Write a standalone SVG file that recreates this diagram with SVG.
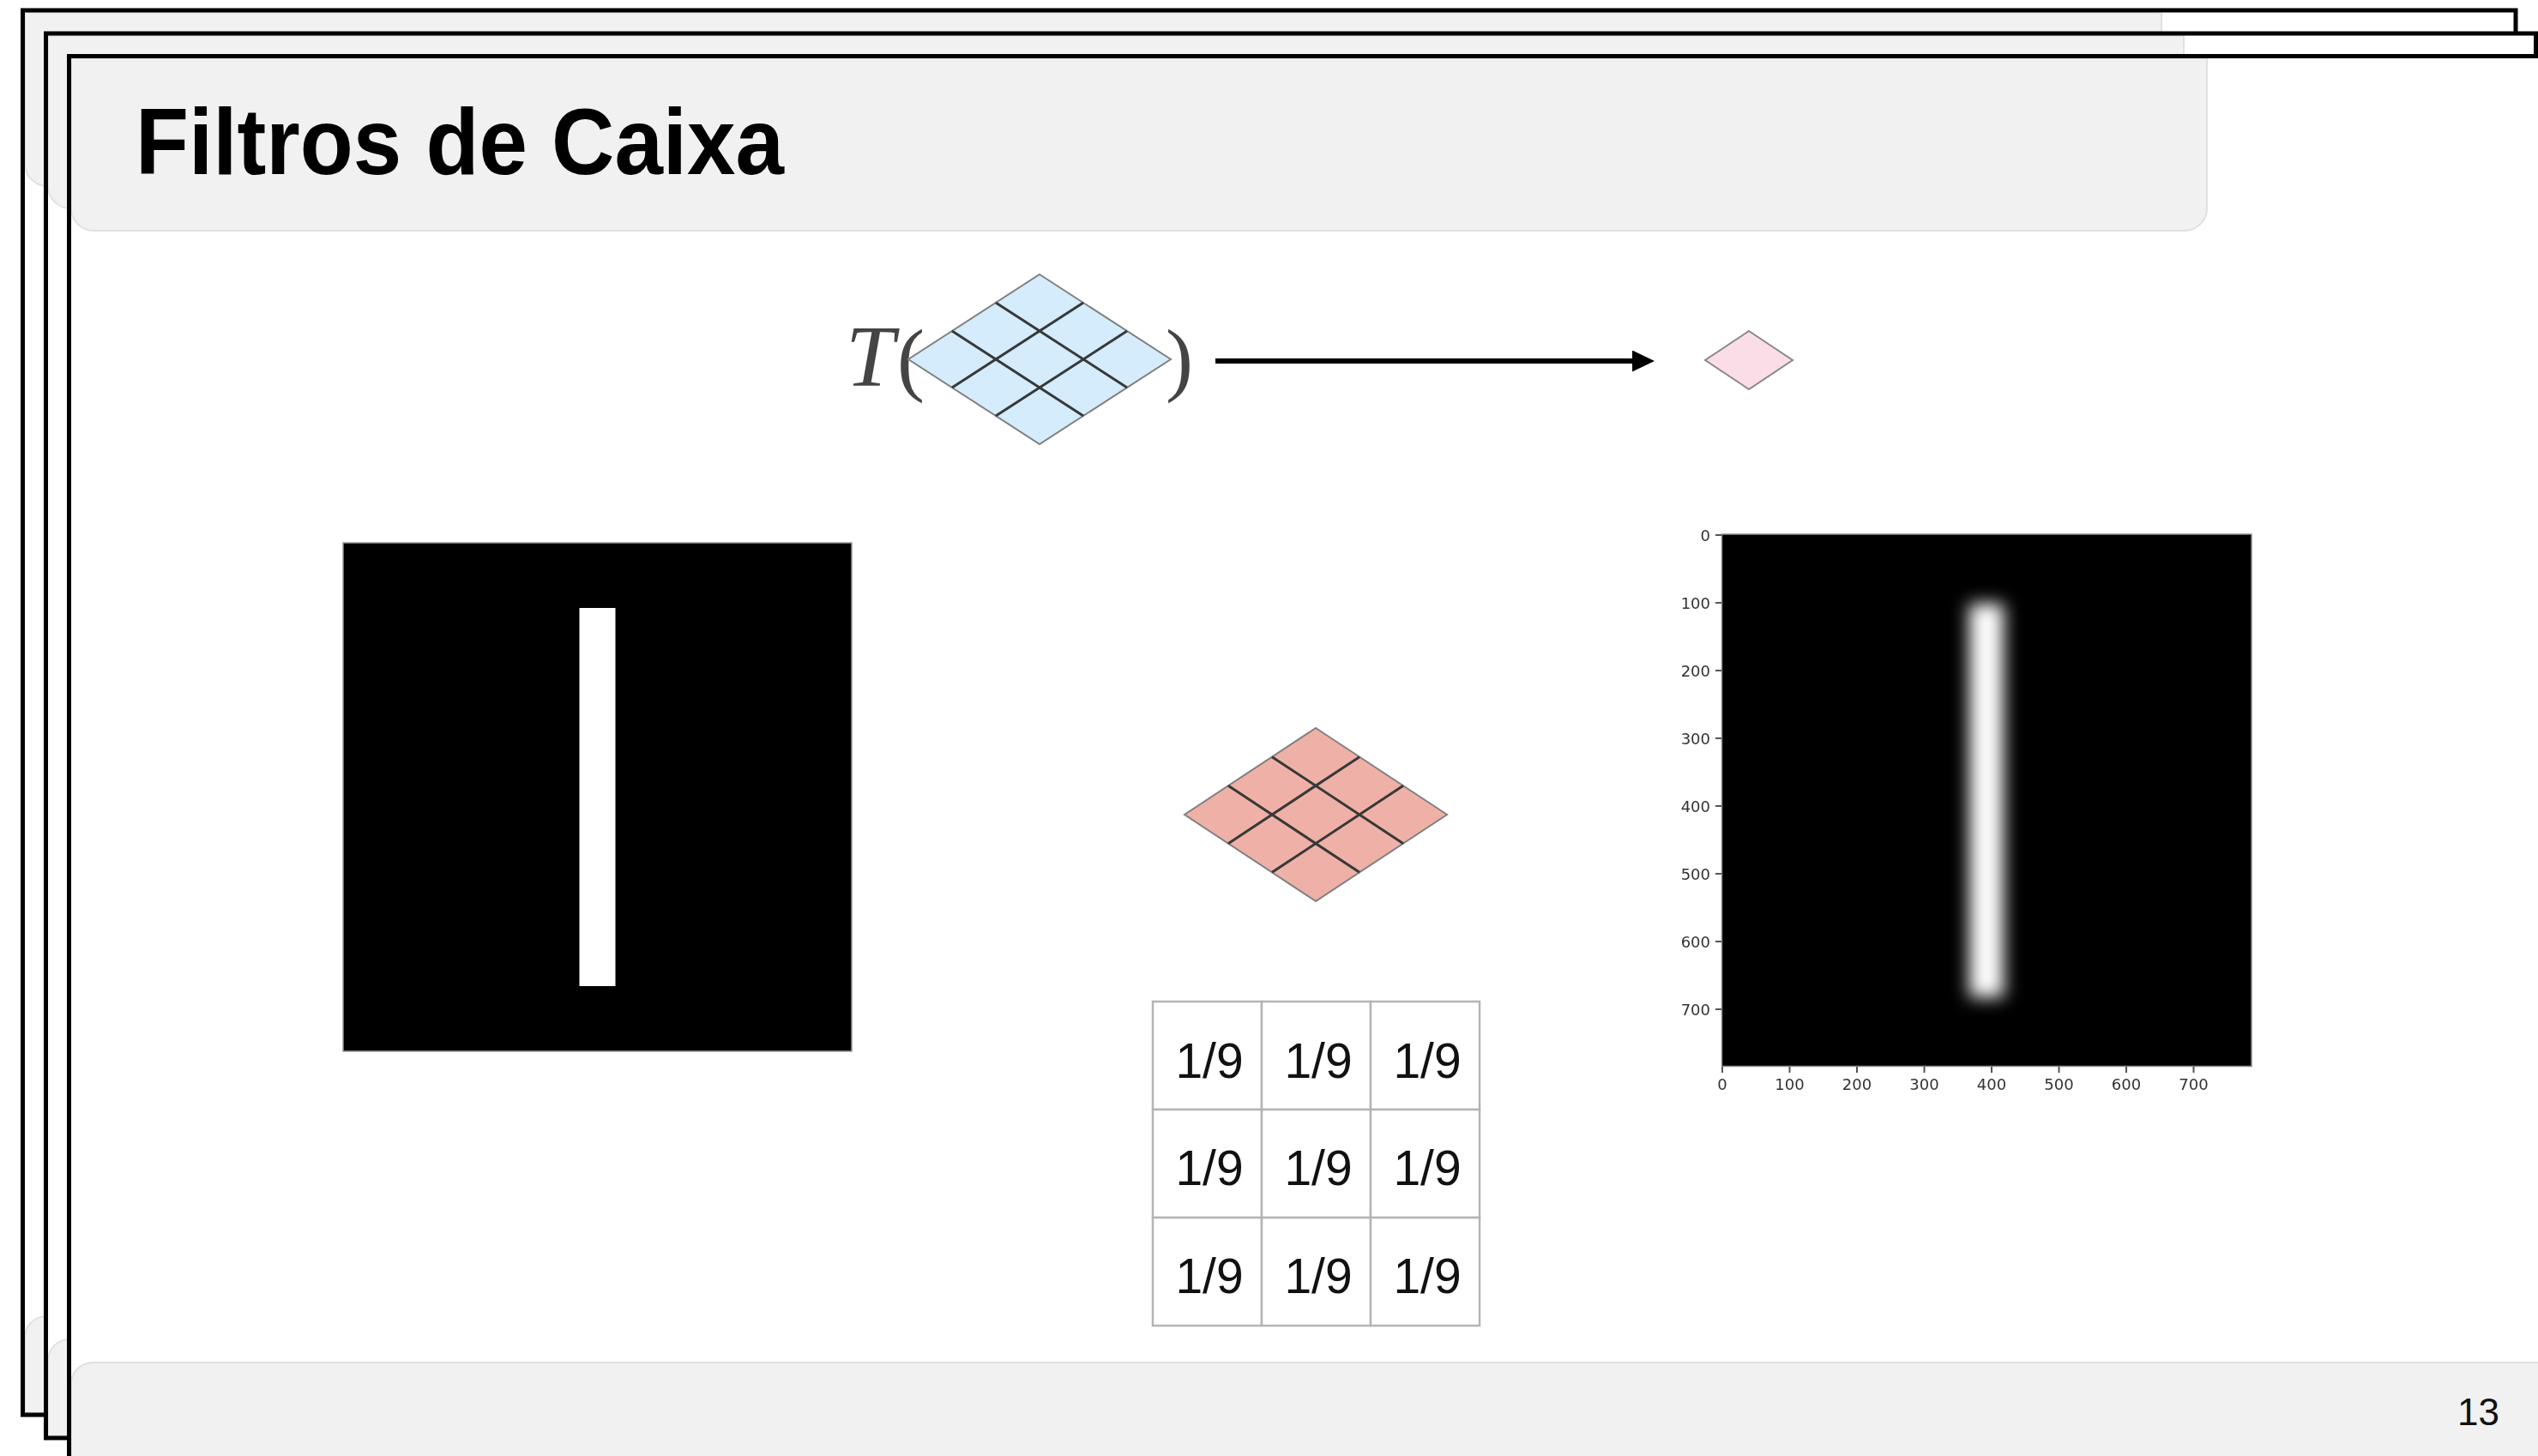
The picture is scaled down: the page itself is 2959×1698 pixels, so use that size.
<svg xmlns="http://www.w3.org/2000/svg" xmlns:xlink="http://www.w3.org/1999/xlink" width="2959" height="1698" viewBox="0 0 2959 1698">
  <style>
    .sheet { fill: #ffffff; }
    .frame { fill: none; stroke: #000000; stroke-width: 5; }
    .band { fill: #f1f1f1; stroke: #e0e0e0; stroke-width: 2; }
    .title { font-family: "Liberation Sans", Arial, Helvetica, sans-serif; font-weight: bold; font-size: 110px; fill: #000000; }
    .pageno { font-family: "Liberation Sans", Arial, Helvetica, sans-serif; font-size: 44px; fill: #111111; }
    .math { font-family: "Liberation Serif", "Times New Roman", serif; fill: #444444; }
    .cell { fill: #ffffff; stroke: #b5b5b5; stroke-width: 2.5; }
    .weight { font-family: "Liberation Sans", Arial, Helvetica, sans-serif; font-size: 57px; fill: #111111; text-anchor: middle; }
    .tick { stroke: #555555; stroke-width: 2; }
    .ticklabel { font-family: "DejaVu Sans", sans-serif; font-size: 18px; fill: #333333; }
    .rh-edge { fill: inherit; stroke: #808080; stroke-width: 2; }
    .rh-line { stroke: #383838; stroke-width: 3; }
    .connector { stroke: #000000; stroke-width: 6; fill: none; }
  </style>
  <defs>
    <!-- 3x3 rhombus grid centred on the origin; fill comes from the <use> -->
    <g id="rhombus-grid">
      <polygon class="rh-edge" points="0,-100 153,0 0,100 -153,0"/>
      <line class="rh-line" x1="51" y1="-66.67" x2="-102" y2="33.33"/>
      <line class="rh-line" x1="102" y1="-33.33" x2="-51" y2="66.67"/>
      <line class="rh-line" x1="-51" y1="-66.67" x2="102" y2="33.33"/>
      <line class="rh-line" x1="-102" y1="-33.33" x2="51" y2="66.67"/>
    </g>
    <marker id="arrowhead" markerUnits="userSpaceOnUse" viewBox="0 0 26 25" markerWidth="26" markerHeight="25" refX="2" refY="12.5" orient="auto">
      <polygon points="0,0 26,12.5 0,25" fill="#000000"/>
    </marker>
    <filter id="glow" filterUnits="userSpaceOnUse" x="2200" y="600" width="240" height="660">
      <feGaussianBlur stdDeviation="10"/>
    </filter>
    <filter id="soft" x="-5%" y="-5%" width="110%" height="110%">
      <feGaussianBlur stdDeviation="0.7"/>
    </filter>
  </defs>

  <rect width="2959" height="1698" fill="#ffffff"/>

  <!-- back sheet -->
  <g id="sheet-back">
    <rect class="sheet" x="26.5" y="12" width="2906.5" height="1638"/>
    <path class="band" d="M29,14.5 H2520 V191 A26,26 0 0 1 2494,217 H55 A26,26 0 0 1 29,191 Z"/>
    <path class="band" d="M29,1647.5 V1560 A25,25 0 0 1 54,1535 H2930.5 V1647.5 Z"/>
    <rect class="frame" x="26.5" y="12" width="2906.5" height="1638"/>
  </g>

  <!-- middle sheet -->
  <g id="sheet-middle">
    <rect class="sheet" x="53.5" y="39" width="2903" height="1638"/>
    <path class="band" d="M56,41.5 H2546 V217 A26,26 0 0 1 2520,243 H82 A26,26 0 0 1 56,217 Z"/>
    <path class="band" d="M56,1674.5 V1587 A25,25 0 0 1 81,1562 H2954 V1674.5 Z"/>
    <rect class="frame" x="53.5" y="39" width="2903" height="1638"/>
  </g>

  <!-- front sheet -->
  <g id="sheet-front">
    <rect class="sheet" x="80.5" y="65.5" width="2920" height="1660"/>
    <path class="band" d="M83,68 H2573 V243 A26,26 0 0 1 2547,269 H109 A26,26 0 0 1 83,243 Z"/>
    <path class="band" d="M83,1720 V1614 A25,25 0 0 1 108,1589 H2990 V1720 Z"/>
    <rect class="frame" x="80.5" y="65.5" width="2920" height="1660"/>
  </g>

  <g id="title">
    <text class="title" x="158" y="203" textLength="756" lengthAdjust="spacingAndGlyphs">Filtros de Caixa</text>
  </g>

  <g id="page-number">
    <text class="pageno" x="2914" y="1662" text-anchor="end">13</text>
  </g>

  <!-- T( neighbourhood ) -->
  <g id="neighbourhood">
    <text class="math" x="986" y="450" font-size="102" font-style="italic">T</text>
    <text class="math" x="1046" y="450" font-size="96">(</text>
    <use xlink:href="#rhombus-grid" href="#rhombus-grid" fill="#d4ecfb" transform="translate(1212,419) scale(1,0.99)"/>
    <text class="math" x="1359" y="450" font-size="96">)</text>
  </g>

  <g id="connectors">
    <line class="connector" x1="1417" y1="421" x2="1905" y2="421" marker-end="url(#arrowhead)"/>
  </g>

  <g id="output-pixel">
    <polygon points="2039,386 2090,420 2039,454 1988,420" fill="#fadde7" stroke="#888888" stroke-width="2"/>
  </g>

  <!-- input image: white bar on black -->
  <g id="input-image">
    <rect x="400" y="633" width="593" height="593" fill="#000000" stroke="#9a9a9a" stroke-width="1.5"/>
    <rect x="675.5" y="709" width="42" height="441" fill="#ffffff"/>
  </g>

  <!-- box kernel -->
  <g id="kernel">
    <use xlink:href="#rhombus-grid" href="#rhombus-grid" fill="#efb1a7" transform="translate(1534,950) scale(1,1.01)"/>
  </g>

  <g id="weights-table">
    <rect class="cell" x="1344" y="1168" width="127" height="126"/>
    <rect class="cell" x="1471" y="1168" width="127" height="126"/>
    <rect class="cell" x="1598" y="1168" width="127" height="126"/>
    <rect class="cell" x="1344" y="1294" width="127" height="126"/>
    <rect class="cell" x="1471" y="1294" width="127" height="126"/>
    <rect class="cell" x="1598" y="1294" width="127" height="126"/>
    <rect class="cell" x="1344" y="1420" width="127" height="126"/>
    <rect class="cell" x="1471" y="1420" width="127" height="126"/>
    <rect class="cell" x="1598" y="1420" width="127" height="126"/>
    <text class="weight" x="1410" y="1257">1/9</text>
    <text class="weight" x="1537" y="1257">1/9</text>
    <text class="weight" x="1664" y="1257">1/9</text>
    <text class="weight" x="1410" y="1382">1/9</text>
    <text class="weight" x="1537" y="1382">1/9</text>
    <text class="weight" x="1664" y="1382">1/9</text>
    <text class="weight" x="1410" y="1508">1/9</text>
    <text class="weight" x="1537" y="1508">1/9</text>
    <text class="weight" x="1664" y="1508">1/9</text>
  </g>

  <!-- filtered result, shown as an image plot with pixel axes -->
  <g id="output-plot">
    <rect x="2007.5" y="623" width="617.5" height="620.5" fill="#000000" stroke="#8a8a8a" stroke-width="1.5"/>
    <rect x="2296" y="704" width="40" height="459" fill="#ffffff" filter="url(#glow)"/>
    <g filter="url(#soft)">
      <g class="tick">
        <line x1="2000" y1="624" x2="2007" y2="624"/>
        <line x1="2000" y1="703" x2="2007" y2="703"/>
        <line x1="2000" y1="782" x2="2007" y2="782"/>
        <line x1="2000" y1="861" x2="2007" y2="861"/>
        <line x1="2000" y1="940" x2="2007" y2="940"/>
        <line x1="2000" y1="1019" x2="2007" y2="1019"/>
        <line x1="2000" y1="1098" x2="2007" y2="1098"/>
        <line x1="2000" y1="1177" x2="2007" y2="1177"/>
        <line x1="2008" y1="1244" x2="2008" y2="1251"/>
        <line x1="2086.5" y1="1244" x2="2086.5" y2="1251"/>
        <line x1="2165" y1="1244" x2="2165" y2="1251"/>
        <line x1="2243.5" y1="1244" x2="2243.5" y2="1251"/>
        <line x1="2322" y1="1244" x2="2322" y2="1251"/>
        <line x1="2400.5" y1="1244" x2="2400.5" y2="1251"/>
        <line x1="2479" y1="1244" x2="2479" y2="1251"/>
        <line x1="2557.5" y1="1244" x2="2557.5" y2="1251"/>
      </g>
      <g class="ticklabel" text-anchor="end">
        <text x="1994" y="630.5">0</text>
        <text x="1994" y="709.5">100</text>
        <text x="1994" y="788.5">200</text>
        <text x="1994" y="867.5">300</text>
        <text x="1994" y="946.5">400</text>
        <text x="1994" y="1025.5">500</text>
        <text x="1994" y="1104.5">600</text>
        <text x="1994" y="1183.5">700</text>
      </g>
      <g class="ticklabel" text-anchor="middle">
        <text x="2008" y="1271">0</text>
        <text x="2086.5" y="1271">100</text>
        <text x="2165" y="1271">200</text>
        <text x="2243.5" y="1271">300</text>
        <text x="2322" y="1271">400</text>
        <text x="2400.5" y="1271">500</text>
        <text x="2479" y="1271">600</text>
        <text x="2557.5" y="1271">700</text>
      </g>
    </g>
  </g>
</svg>
